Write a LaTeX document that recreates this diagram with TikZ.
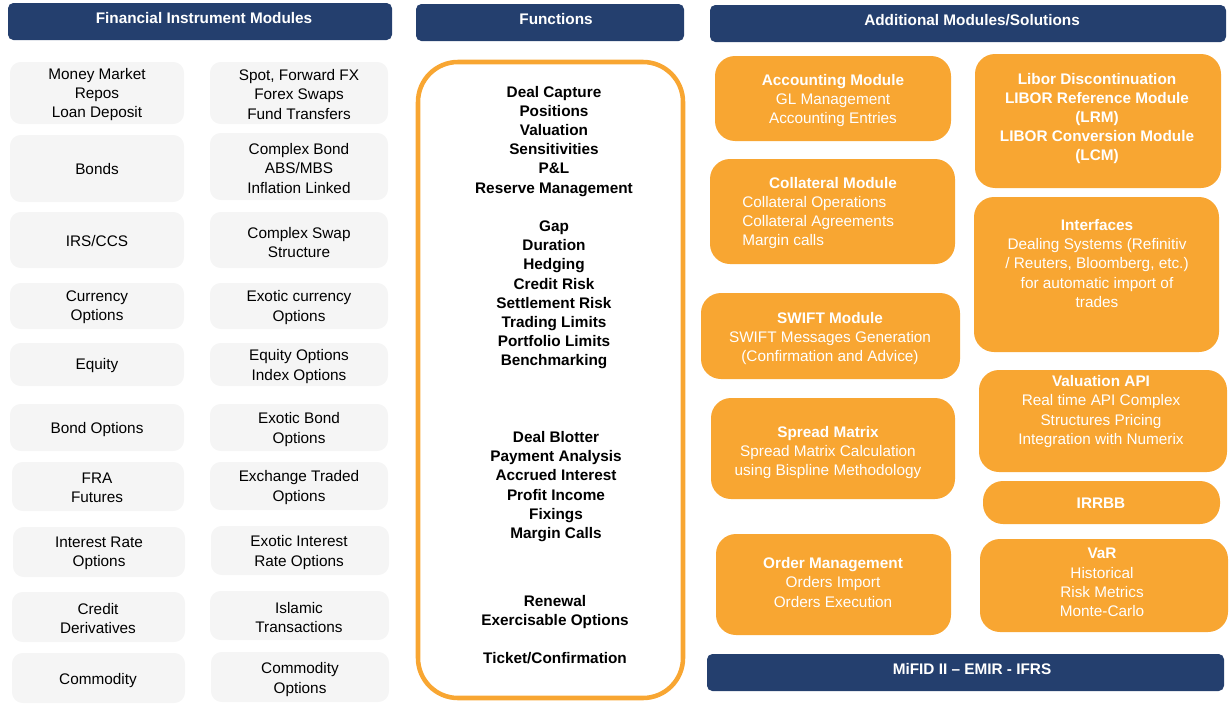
\documentclass[tikz,border=0pt]{standalone}
\usepackage{fontspec}
\setmainfont{Liberation Sans}
\usepackage{tikz}
\usetikzlibrary{positioning}
\definecolor{marine}{RGB}{36,63,110}
\definecolor{orangeb}{RGB}{248,166,50}
\definecolor{grisclair}{RGB}{245,245,245}
\newcommand{\taille}{\fontsize{11.5}{14.4}\selectfont}
\tikzstyle{entete} = [fill=marine, rounded corners=4pt]
\tikzstyle{titre} = [text=white, font=\taille\bfseries, yshift=0pt]
\tikzstyle{instr} = [fill=grisclair, rounded corners=8pt]
\tikzstyle{module} = [fill=orangeb, rounded corners=15pt]
\tikzstyle{blanc} = [text=white]
\tikzstyle{gras} = [font=\taille\bfseries]
\tikzstyle{cadre} = [draw=orangeb, line width=3.4pt, rounded corners=30pt]

\begin{document}
\begin{tikzpicture}[x=0.75pt, y=-0.75pt, every node/.style={align=center, inner sep=0pt, font=\taille, yshift=-1.1pt}]
	\useasboundingbox (0,0) rectangle (1230,703);

	\fill[entete] (8,3) rectangle (392,40);
	\node[titre] (FIM) at (204,17) {Financial Instrument Modules};

	\fill[entete] (416,4) rectangle (684,41);
	\node[titre] (FCT) at (556,18) {Functions};

	\fill[entete] (710,5) rectangle (1226,42);
	\node[titre] (AMS) at (972,19) {Additional Modules/Solutions};

	\fill[entete] (707,654) rectangle (1224,691);
	\node[titre] (REG) at (972,668) {MiFID II -- EMIR - IFRS};


	\fill[instr] (10,62) rectangle (184,124);
	\node (MM) at (97,93) {Money Market\\Repos\\Loan Deposit};
	\fill[instr] (210,62) rectangle (388,124);
	\node (FX) at (299,93) {Spot, Forward FX\\Forex Swaps\\Fund Transfers};

	\fill[instr] (10,135) rectangle (184,202);
	\node (BD) at (97,168) {Bonds};
	\fill[instr] (210,133) rectangle (388,200);
	\node (CB) at (299,167) {Complex Bond\\ABS/MBS\\Inflation Linked};

	\fill[instr] (10,212) rectangle (184,268);
	\node (IRS) at (97,240) {IRS/CCS};
	\fill[instr] (210,212) rectangle (388,268);
	\node (CSS) at (299,241) {Complex Swap\\Structure};

	\fill[instr] (10,283) rectangle (184,329);
	\node (CO) at (97,306) {Currency\\Options};
	\fill[instr] (210,283) rectangle (388,329);
	\node (ECO) at (299,306) {Exotic currency\\Options};

	\fill[instr] (10,343) rectangle (184,386);
	\node (EQ) at (97,364) {Equity};
	\fill[instr] (210,343) rectangle (388,386);
	\node (EQO) at (299,365) {Equity Options\\Index Options};

	\fill[instr] (10,404) rectangle (184,451);
	\node (BO) at (97,428) {Bond Options};
	\fill[instr] (210,404) rectangle (388,451);
	\node (EBO) at (299,428) {Exotic Bond\\Options};

	\fill[instr] (12,462) rectangle (184,511);
	\node (FRA) at (97,486) {FRA\\Futures};
	\fill[instr] (210,462) rectangle (388,510);
	\node (ETO) at (299,486) {Exchange Traded\\Options};

	\fill[instr] (13,527) rectangle (185,577);
	\node (IRO) at (99,552) {Interest Rate\\Options};
	\fill[instr] (211,526) rectangle (389,575);
	\node (EIRO) at (299,551) {Exotic Interest\\Rate Options};

	\fill[instr] (12,592) rectangle (185,642);
	\node (CD) at (98,617) {Credit\\Derivatives};
	\fill[instr] (210,591) rectangle (389,640);
	\node (IT) at (299,616) {Islamic\\Transactions};

	\fill[instr] (12,653) rectangle (185,703);
	\node (COM) at (98,679) {Commodity};
	\fill[instr] (211,652) rectangle (389,702);
	\node (COMO) at (300,678) {Commodity\\Options};


	\draw[cadre] (418,62) rectangle (683,698);
	\node[gras] (F1) at (554,226) {Deal Capture\\Positions\\Valuation\\Sensitivities\\P\&L\\Reserve Management\\[14.4pt]Gap\\Duration\\Hedging\\Credit Risk\\Settlement Risk\\Trading Limits\\Portfolio Limits\\Benchmarking};
	\node[gras] (F2) at (556,485) {Deal Blotter\\Payment Analysis\\Accrued Interest\\Profit Income\\Fixings\\Margin Calls};
	\node[gras] (F3) at (555,628) {Renewal\\Exercisable Options\\[14.4pt]Ticket/Confirmation};


	\fill[module] (715,56) rectangle (951,141);
	\node[blanc] (ACC) at (833,99) {\textbf{Accounting Module}\\GL Management\\Accounting Entries};

	\fill[module] (710,159) rectangle (955,264);
	\node[blanc, gras] (COL) at (833,182) {Collateral Module};
	\node[blanc, anchor=west, align=left] (COLb) at (742,221) {Collateral Operations\\Collateral Agreements\\Margin calls};

	\fill[module] (701,293) rectangle (960,379);
	\node[blanc] (SW) at (830,337) {\textbf{SWIFT Module}\\SWIFT Messages Generation\\(Confirmation and Advice)};

	\fill[module] (711,398) rectangle (955,499);
	\node[blanc] (SM) at (828,451) {\textbf{Spread Matrix}\\Spread Matrix Calculation\\using Bispline Methodology};

	\fill[module] (716,534) rectangle (951,635);
	\node[blanc] (OM) at (833,581) {\textbf{Order Management}\\Orders Import\\Orders Execution};

	\fill[module] (975,54) rectangle (1221,188);
	\node[blanc, gras] (LIB) at (1097,117) {Libor Discontinuation\\LIBOR Reference Module\\(LRM)\\LIBOR Conversion Module\\(LCM)};

	\fill[module] (974,197) rectangle (1219,352);
	\node[blanc] (INT) at (1097,262) {\textbf{Interfaces}\\Dealing Systems (Refinitiv\\/ Reuters, Bloomberg, etc.)\\for automatic import of\\trades};

	\fill[module] (979,370) rectangle (1227,472);
	\node[blanc] (API) at (1101,410) {\textbf{Valuation API}\\Real time API Complex\\Structures Pricing\\Integration with Numerix};

	\fill[module] (983,481) rectangle (1220,524);
	\node[blanc, gras] (IRB) at (1101,502) {IRRBB};

	\fill[module] (980,539) rectangle (1228,632);
	\node[blanc] (VAR) at (1102,581) {\textbf{VaR}\\Historical\\Risk Metrics\\Monte-Carlo};

\end{tikzpicture}
\end{document}
